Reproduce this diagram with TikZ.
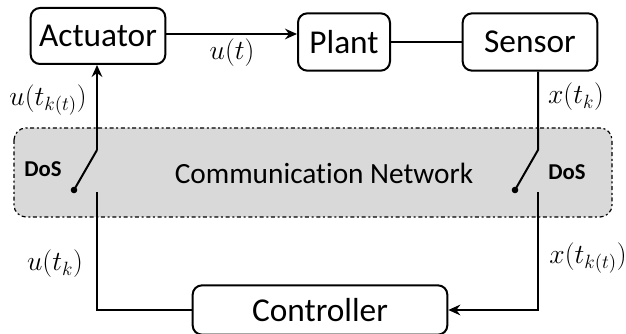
\documentclass[tikz,border=0pt]{standalone}
\usepackage{fontspec}
\setmainfont{Carlito}[Ligatures=NoCommon]
\usetikzlibrary{arrows.meta}
\tikzset{every picture/.style={line width=1.5pt}}
\tikzset{
  blockbox/.style={draw, rounded corners=7pt, inner sep=0pt, font=\fontsize{25}{30}\selectfont},
  netbox/.style={draw, dash dot, line width=0.9pt, fill={rgb,255:red,217;green,217;blue,217}, rounded corners=9pt},
  sig/.style={-{Stealth[length=9pt,width=8pt,inset=3pt]}},
  mlabel/.style={font=\fontsize{20.5}{24}\selectfont},
  doslabel/.style={font=\fontsize{17}{20}\selectfont\bfseries},
}

\begin{document}
\begin{tikzpicture}[x=0.75pt,y=0.75pt,yscale=-1,xscale=1]
\useasboundingbox (0,0) rectangle (626,334);

%Shape: Network
\draw [netbox] (14,128) rectangle (612,217);
% Text Node
\node (net) at (324,173) [font=\fontsize{22}{26}\selectfont] {Communication Network};

%Shape: Blocks
\node (act) at (98,36) [blockbox, minimum width=101pt, minimum height=42pt] {Actuator};
\node (plant) at (344,42) [blockbox, minimum width=69pt, minimum height=43pt] {Plant};
\node (sens) at (530,42) [blockbox, minimum width=101pt, minimum height=43pt] {Sensor};
\node (ctrl) at (320,310) [blockbox, minimum width=191pt, minimum height=37pt] {Controller};

%Switch contacts
\coordinate (swAtop) at (97,150);
\coordinate (swAdot) at (74,190);
\coordinate (swAbot) at (97,192);
\coordinate (swStop) at (538,150);
\coordinate (swSdot) at (515,190);
\coordinate (swSbot) at (538,192);

%Straight Lines
\draw [sig] ([yshift=-1.5pt]act.east) -- ([yshift=-1.5pt]act.east -| plant.west);
\draw (plant.east) -- (sens.west);
\draw [sig] (swAtop) -- (swAtop |- act.south);
\draw (swAtop) -- (swAdot);
\fill (swAdot) circle (3.3);
\draw (swAbot) |- (ctrl.west);
\draw (sens.south -| swStop) -- (swStop) -- (swSdot);
\fill (swSdot) circle (3.3);
\draw [sig] (swSbot) |- (ctrl.east);

% Text Node
\node (lut) at (232,53) [mlabel] {$u(t)$};
% Text Node
\node (lutkt) at (48,100) [mlabel] {$u(t_{k(t)})$};
% Text Node
\node (lxtk) at (576,97) [mlabel] {$x(t_k)$};
% Text Node
\node (lutk) at (55,264) [mlabel] {$u(t_k)$};
% Text Node
\node (lxtkt) at (588,258) [mlabel] {$x(t_{k(t)})$};
% Text Node
\node (dosA) at (43,169) [doslabel] {DoS};
% Text Node
\node (dosS) at (567,172) [doslabel] {DoS};

\end{tikzpicture}
\end{document}
